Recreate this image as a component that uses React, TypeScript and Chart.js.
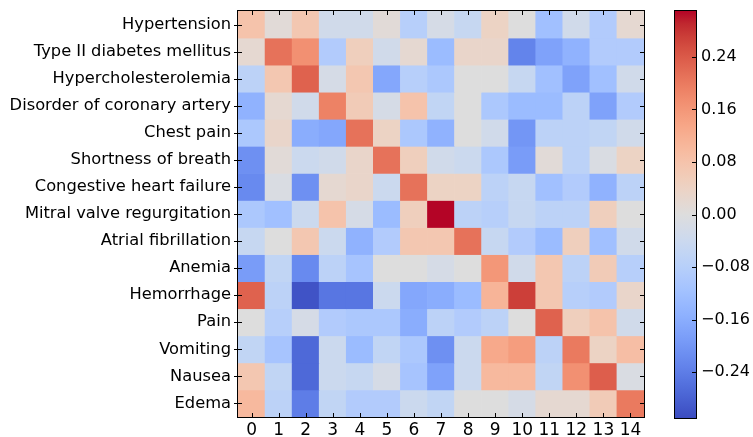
import React, { useEffect, useRef } from 'react';
import { Chart, registerables } from 'chart.js';

Chart.register(...registerables);

const ROWS = [
  'Hypertension',
  'Type II diabetes mellitus',
  'Hypercholesterolemia',
  'Disorder of coronary artery',
  'Chest pain',
  'Shortness of breath',
  'Congestive heart failure',
  'Mitral valve regurgitation',
  'Atrial fibrillation',
  'Anemia',
  'Hemorrhage',
  'Pain',
  'Vomiting',
  'Nausea',
  'Edema',
];

const COLS = ['0', '1', '2', '3', '4', '5', '6', '7', '8', '9', '10', '11', '12', '13', '14'];

const hypertension = [0.08, 0.01, 0.07, -0.03, -0.03, 0.01, -0.08, -0.02, -0.05, 0.04, 0.0, -0.12, -0.03, -0.09, 0.02];
const diabetes = [0.02, 0.21, 0.17, -0.09, 0.05, -0.03, 0.02, -0.13, 0.03, 0.03, -0.23, -0.18, -0.15, -0.09, -0.09];
const hypercholesterolemia = [-0.07, 0.07, 0.23, -0.02, 0.07, -0.17, -0.08, -0.1, 0.0, 0.0, -0.05, -0.12, -0.18, -0.12, -0.03];
const coronary = [-0.15, 0.02, -0.03, 0.19, 0.06, -0.02, 0.08, -0.06, 0.0, -0.1, -0.13, -0.13, -0.07, -0.18, -0.09];
const chestPain = [-0.1, 0.03, -0.16, -0.17, 0.21, 0.04, -0.1, -0.15, 0.0, -0.03, -0.2, -0.07, -0.07, -0.06, -0.03];
const breath = [-0.21, 0.01, -0.04, -0.03, 0.03, 0.21, 0.05, -0.03, -0.04, -0.1, -0.19, 0.01, -0.07, -0.01, 0.04];
const heartFailure = [-0.22, -0.01, -0.21, 0.02, 0.03, -0.04, 0.21, 0.04, 0.04, -0.07, -0.05, -0.12, -0.09, -0.15, -0.07];
const mitral = [-0.1, -0.12, -0.04, 0.08, -0.02, -0.13, 0.05, 0.31, -0.07, -0.08, -0.05, -0.07, -0.07, 0.05, 0.0];
const atrial = [-0.05, 0.0, 0.07, -0.04, -0.15, -0.09, 0.07, 0.07, 0.21, -0.05, -0.09, -0.13, 0.05, -0.12, -0.03];
const anemia = [-0.19, -0.06, -0.22, -0.07, -0.11, 0.0, 0.0, -0.02, 0.0, 0.16, -0.03, 0.07, -0.07, 0.06, -0.08];
const hemorrhage = [0.23, -0.07, -0.3, -0.25, -0.25, -0.04, -0.17, -0.16, -0.13, 0.11, 0.27, 0.07, -0.08, -0.09, 0.03];
const pain = [0.0, -0.08, -0.02, -0.09, -0.1, -0.1, -0.16, -0.07, -0.09, -0.07, 0.0, 0.23, 0.05, 0.08, -0.03];
const vomiting = [-0.06, -0.11, -0.27, -0.04, -0.13, -0.06, -0.1, -0.21, -0.04, 0.13, 0.15, -0.07, 0.2, 0.04, 0.09];
const nausea = [0.07, -0.06, -0.27, -0.04, -0.05, -0.02, -0.11, -0.18, -0.04, 0.1, 0.1, -0.06, 0.17, 0.235, -0.01];
const edema = [0.1, -0.07, -0.24, -0.06, -0.09, -0.09, -0.04, -0.06, 0.0, 0.0, -0.02, 0.02, 0.02, 0.06, 0.2];

const VALUES = [
  hypertension, diabetes, hypercholesterolemia, coronary, chestPain, breath, heartFailure,
  mitral, atrial, anemia, hemorrhage, pain, vomiting, nausea, edema,
];

const VMIN = -0.31;
const VMAX = 0.31;
const CB_TICKS = [-0.24, -0.16, -0.08, 0, 0.08, 0.16, 0.24];

const COOLWARM: number[][] = [
  [59, 76, 192], [68, 90, 204], [77, 104, 215], [87, 117, 225], [98, 130, 234],
  [108, 142, 241], [119, 154, 247], [130, 165, 251], [141, 176, 254], [152, 185, 255],
  [163, 194, 255], [174, 201, 253], [184, 208, 249], [194, 213, 244], [204, 217, 238],
  [213, 219, 230], [221, 221, 221], [229, 216, 209], [236, 211, 197], [241, 204, 184],
  [245, 196, 173], [247, 187, 160], [247, 177, 148], [247, 166, 135], [244, 154, 123],
  [241, 141, 111], [236, 127, 99], [229, 112, 88], [222, 96, 77], [213, 80, 66],
  [203, 62, 56], [192, 40, 47], [180, 4, 38],
];

function coolwarm(t: number): string {
  const tt = Math.max(0, Math.min(1, t)) * (COOLWARM.length - 1);
  const i = Math.min(COOLWARM.length - 2, Math.floor(tt));
  const f = tt - i;
  const a = COOLWARM[i];
  const b = COOLWARM[i + 1];
  const c = a.map((v, k) => Math.round(v + (b[k] - v) * f));
  return `rgb(${c[0]},${c[1]},${c[2]})`;
}

function colorFor(v: number): string {
  return coolwarm((v - VMIN) / (VMAX - VMIN));
}

const FAMILY = "'DejaVu Sans', sans-serif";
const Y_FONT = { family: FAMILY, size: 16.3 };
const X_FONT = { family: FAMILY, size: 17 };
const CB_FONT = { family: FAMILY, size: 16 };
const TICK = 4;

const heatFrame = {
  id: 'heatFrame',
  afterDraw(chart: any) {
    const { ctx, chartArea: a, scales } = chart;
    ctx.save();
    ctx.strokeStyle = '#000';
    ctx.lineWidth = 1;
    ctx.beginPath();
    COLS.forEach((_, i) => {
      const x = Math.round(scales.x.getPixelForValue(i)) + 0.5;
      ctx.moveTo(x, a.top);
      ctx.lineTo(x, a.top + TICK);
      ctx.moveTo(x, a.bottom);
      ctx.lineTo(x, a.bottom - TICK);
    });
    ROWS.forEach((_, i) => {
      const y = Math.round(scales.y.getPixelForValue(i)) + 0.5;
      ctx.moveTo(a.left - TICK, y);
      ctx.lineTo(a.left + TICK, y);
      ctx.moveTo(a.right, y);
      ctx.lineTo(a.right - TICK, y);
    });
    ctx.stroke();
    ctx.strokeRect(Math.round(a.left) - 0.5, Math.round(a.top) - 0.5, Math.round(a.right - a.left) + 1, Math.round(a.bottom - a.top) + 1);
    ctx.restore();
  },
};

const cbFrame = {
  id: 'cbFrame',
  afterDraw(chart: any) {
    const { ctx, chartArea: a, scales } = chart;
    ctx.save();
    ctx.strokeStyle = '#000';
    ctx.lineWidth = 1;
    ctx.beginPath();
    CB_TICKS.forEach((v) => {
      const y = Math.round(scales.y.getPixelForValue(v)) + 0.5;
      ctx.moveTo(a.right, y);
      ctx.lineTo(a.right - TICK, y);
    });
    ctx.stroke();
    ctx.strokeRect(Math.round(a.left) - 0.5, Math.round(a.top) - 0.5, Math.round(a.right - a.left) + 1, Math.round(a.bottom - a.top) + 1);
    ctx.restore();
  },
};

function fmt(v: number): string {
  const s = Math.abs(v).toFixed(2);
  return v < -1e-9 ? '\u2212' + s : s;
}

export default function App() {
  const heatRef = useRef<HTMLCanvasElement | null>(null);
  const cbRef = useRef<HTMLCanvasElement | null>(null);

  useEffect(() => {
    const heat = new Chart(heatRef.current as HTMLCanvasElement, {
      type: 'bar',
      data: {
        labels: COLS,
        datasets: VALUES.map((row, r) => ({
          label: ROWS[r],
          data: row.map(() => [r - 0.5, r + 0.5]),
          backgroundColor: row.map(colorFor),
          borderWidth: 0,
          grouped: false,
          barPercentage: 1,
          categoryPercentage: 1,
        })),
      } as any,
      options: {
        animation: false,
        responsive: false,
        maintainAspectRatio: false,
        layout: { padding: { top: 11, right: 16, left: 0, bottom: 0 } },
        plugins: { legend: { display: false }, tooltip: { enabled: false } },
        scales: {
          x: {
            type: 'category',
            grid: { display: false, drawTicks: false },
            border: { display: false },
            ticks: { color: '#000', font: X_FONT, padding: 3, maxRotation: 0, autoSkip: false },
            afterFit: (s: any) => { s.height = 20; s.paddingLeft = 0; s.paddingRight = 0; },
          },
          y: {
            type: 'linear',
            reverse: true,
            min: -0.5,
            max: 14.5,
            afterBuildTicks: (s: any) => { s.ticks = ROWS.map((_, i) => ({ value: i })); },
            grid: { display: false, drawTicks: false },
            border: { display: false },
            ticks: {
              color: '#000',
              font: Y_FONT,
              padding: 7,
              autoSkip: false,
              callback: (_v: any, i: number) => ROWS[i],
            },
            afterFit: (s: any) => { s.width = 238; s.paddingTop = 0; s.paddingBottom = 0; },
          },
        },
      } as any,
      plugins: [heatFrame],
    });

    const cb = new Chart(cbRef.current as HTMLCanvasElement, {
      type: 'bar',
      data: {
        labels: [''],
        datasets: [{
          data: [[VMIN, VMAX]],
          backgroundColor: (c: any) => {
            const a = c.chart.chartArea;
            if (!a) return '#ddd';
            const g = c.chart.ctx.createLinearGradient(0, a.bottom, 0, a.top);
            COOLWARM.forEach((col, i) => {
              g.addColorStop(i / (COOLWARM.length - 1), `rgb(${col[0]},${col[1]},${col[2]})`);
            });
            return g;
          },
          borderWidth: 0,
          barPercentage: 1,
          categoryPercentage: 1,
        }],
      } as any,
      options: {
        animation: false,
        responsive: false,
        maintainAspectRatio: false,
        layout: { padding: { top: 11, bottom: 19, left: 15, right: 0 } },
        plugins: { legend: { display: false }, tooltip: { enabled: false } },
        scales: {
          x: { display: false },
          y: {
            position: 'right',
            min: VMIN,
            max: VMAX,
            afterBuildTicks: (s: any) => { s.ticks = CB_TICKS.map((v) => ({ value: v })); },
            grid: { display: false, drawTicks: false },
            border: { display: false },
            ticks: { color: '#000', font: CB_FONT, padding: 5, callback: (v: any) => fmt(Number(v)) },
            afterFit: (s: any) => { s.width = 57; s.paddingTop = 0; s.paddingBottom = 0; },
          },
        },
      } as any,
      plugins: [cbFrame],
    });

    return () => {
      heat.destroy();
      cb.destroy();
    };
  }, []);

  return (
    <div style={{ position: 'fixed', left: 0, top: 0, width: 753, height: 437, background: '#fff' }}>
      <canvas ref={heatRef} width={660} height={437} style={{ position: 'absolute', left: 0, top: 0, width: 660, height: 437 }} />
      <canvas ref={cbRef} width={93} height={437} style={{ position: 'absolute', left: 660, top: 0, width: 93, height: 437 }} />
    </div>
  );
}
